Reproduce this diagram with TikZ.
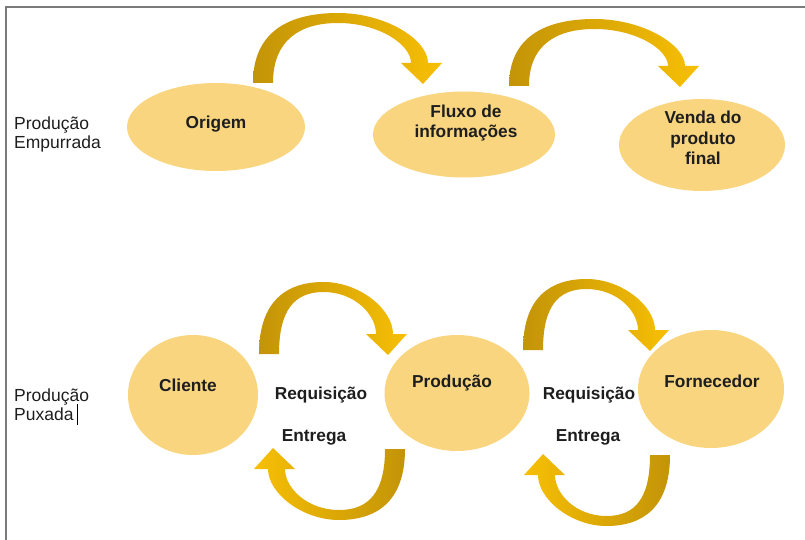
\documentclass[tikz,border=0pt]{standalone}
\usepackage{fontspec}
\setmainfont{Liberation Sans}
\usetikzlibrary{shapes.geometric}
\definecolor{ellfill}{HTML}{F9D57F}
\definecolor{arrowdark}{HTML}{C39408}
\definecolor{arrowlight}{HTML}{F7BF04}
\definecolor{framegray}{HTML}{7A7A7A}
\definecolor{txt}{HTML}{1E1E1E}
\newcommand\curvarrow[3][left color=arrowdark, right color=arrowlight]{%
  \shade[#1]
  (0,0) .. controls (0,{-0.75*#3}) and ({0.22*#2},{-#3}) .. ({0.5*#2},{-#3})
  .. controls ({0.78*#2},{-#3}) and ({#2+5},{-0.62*#3}) .. ({#2+5},-20)
  -- ({#2+19},-20) -- (#2,1) -- ({#2-22},-20) -- ({#2-12},-20)
  .. controls ({#2-12},{-0.55*#3}) and ({0.74*#2},{-#3+10}) .. ({0.5*#2},{-#3+10})
  .. controls ({0.27*#2},{-#3+10}) and (20,{-0.6*#3}) .. (20,0) -- cycle;}
\tikzset{
  ell/.style={ellipse, fill=ellfill, draw=none, inner sep=0pt},
  boldtxt/.style={font=\fontsize{17.3}{20.5}\selectfont\bfseries, text=txt, align=center, inner sep=0pt},
  sidelabel/.style={font=\fontsize{17.5}{19}\selectfont, text=txt, align=left, anchor=west, inner sep=0pt},
  flipshade/.style={left color=arrowlight, right color=arrowdark},
}
\begin{document}
\begin{tikzpicture}[x=1pt,y=-1pt]
\useasboundingbox (0,0) rectangle (805,540);
% frame
\draw[framegray, line width=2pt] (6,540) -- (6,7.5) -- (805,7.5);
% top row
\node[ell, minimum width=178, minimum height=88] (origem) at (216,127) {};
\node[ell, minimum width=182, minimum height=86] (fluxo) at (464,134.5) {};
\node[ell, minimum width=166, minimum height=92] (venda) at (702,145) {};
\node[boldtxt] (origemtxt) at (216,124) {Origem};
\node[boldtxt] (fluxotxt) at (466,123) {Fluxo de\\informações};
\node[boldtxt] (vendatxt) at (703,138) {Venda do\\produto\\final};
\node[sidelabel] (empurrada) at (14,134) {Produção\\Empurrada};
\begin{scope}[shift={(253,83)}] \curvarrow{170}{70} \end{scope}
\begin{scope}[shift={(509,86)}] \curvarrow{171}{67} \end{scope}
% bottom row
\node[ell, minimum width=130, minimum height=120] (cliente) at (193,395) {};
\node[ell, minimum width=145, minimum height=116] (producao) at (457,393) {};
\node[ell, minimum width=146, minimum height=118] (fornecedor) at (711,389) {};
\node[boldtxt] (clientetxt) at (188,385) {Cliente};
\node[boldtxt] (producaotxt) at (452,383) {Produção};
\node[boldtxt] (fornecedortxt) at (712,381) {Fornecedor};
\node[boldtxt] (req1) at (321,395) {Requisição};
\node[boldtxt] (ent1) at (314,437) {Entrega};
\node[boldtxt] (req2) at (589,395) {Requisição};
\node[boldtxt] (ent2) at (588,437) {Entrega};
\node[sidelabel] (puxada) at (14,405) {Produção\\Puxada};
\coordinate (curtop) at (77.5,404);
\coordinate (curbot) at (77.5,425);
\draw[black, line width=1pt] (curtop) -- (curbot);
\begin{scope}[shift={(259,354)}] \curvarrow{129}{72} \end{scope}
\begin{scope}[shift={(523,350)}] \curvarrow{127}{71} \end{scope}
\begin{scope}[shift={(405,449)}, rotate=180] \curvarrow[flipshade]{132}{71} \end{scope}
\begin{scope}[shift={(670,455)}, rotate=180] \curvarrow[flipshade]{127}{71} \end{scope}
\end{tikzpicture}
\end{document}
